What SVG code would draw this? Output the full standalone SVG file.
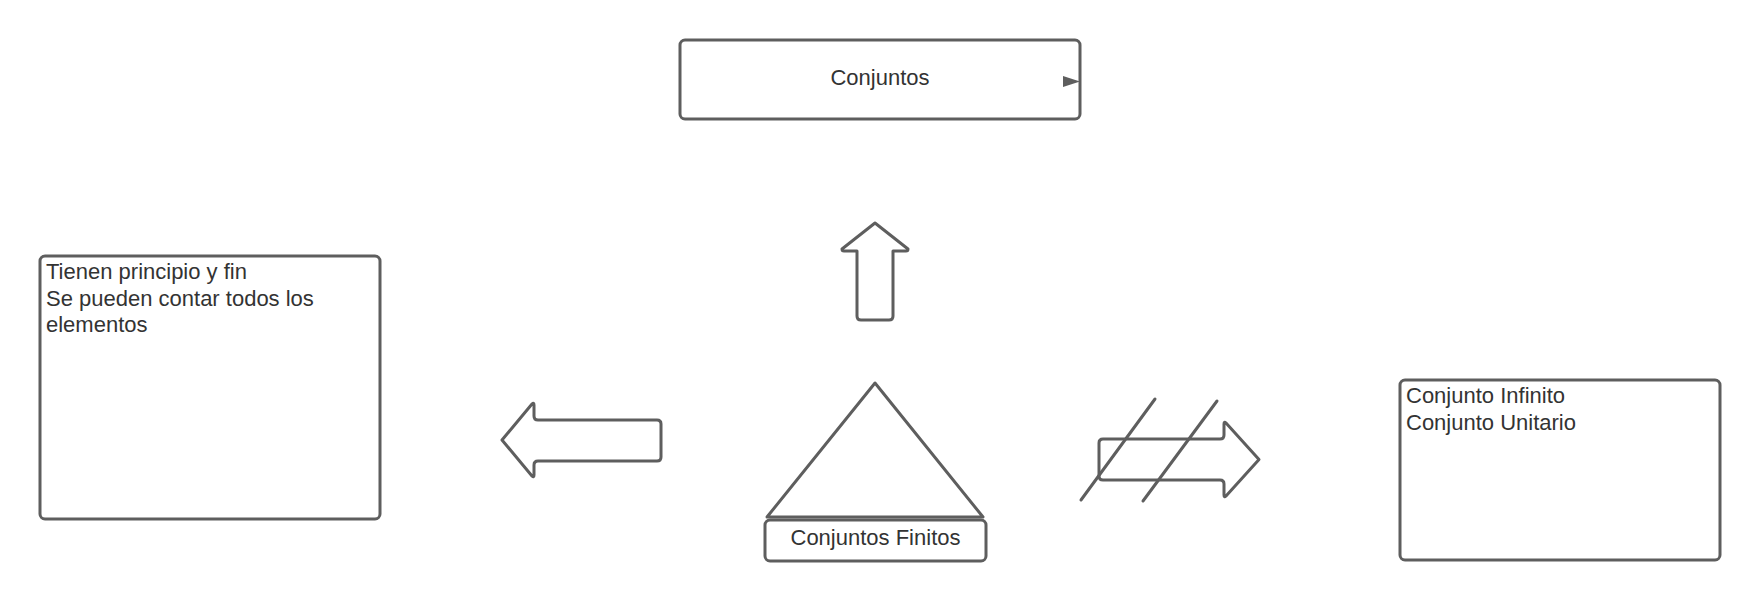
<svg xmlns="http://www.w3.org/2000/svg" width="1760" height="600" viewBox="0 0 1760 600">
<style>
.shape{fill:#ffffff;stroke:#5e5e5e;stroke-width:3;stroke-linejoin:round;stroke-linecap:round}
.line{fill:none;stroke:#5e5e5e;stroke-width:3;stroke-linecap:round}
.head{fill:#5e5e5e;stroke:none}
text{font-family:"Liberation Sans",Arial,sans-serif;font-size:22px;fill:#333333}
.c{text-anchor:middle}
</style>
<rect width="1760" height="600" fill="#ffffff"/>
<g id="node-conjuntos">
<rect class="shape" x="680" y="40" width="400" height="79" rx="5"/>
<text class="c" x="880" y="85">Conjuntos</text>
</g>
<g id="node-left-box">
<rect class="shape" x="40" y="256" width="340" height="263" rx="5"/>
<text x="46" y="279">Tienen principio y fin</text>
<text x="46" y="305.5">Se pueden contar todos los</text>
<text x="46" y="332">elementos</text>
</g>
<g id="node-right-box">
<rect class="shape" x="1400" y="380" width="320" height="180" rx="5"/>
<text x="1406" y="403">Conjunto Infinito</text>
<text x="1406" y="429.5">Conjunto Unitario</text>
</g>
<g id="node-triangle">
<path class="shape" d="M875,383 L983,517 L767,517 Z"/>
</g>
<g id="node-finitos">
<rect class="shape" x="765" y="520" width="221" height="41" rx="5"/>
<text class="c" x="875.5" y="545">Conjuntos Finitos</text>
</g>
<g id="node-arrow-up">
<path class="shape" d="M875,223 L908,249 Q908,251 906,251 L893,251 L893,316 Q893,320 889,320 L861,320 Q857,320 857,316 L857,251 L844,251 Q842,251 842,249 Z"/>
</g>
<g id="node-arrow-left">
<path class="shape" d="M502,440 L532,404 Q534,402 534,405 L534,416 Q534,420 538,420 L657,420 Q661,420 661,424 L661,457 Q661,461 657,461 L538,461 Q534,461 534,465 L534,475 Q534,478 532,476 Z"/>
</g>
<g id="node-arrow-right-crossed">
<path class="shape" d="M1103,439 L1220,439 Q1224,439 1224,435 L1224,424 Q1224,421 1226,423 L1259,459.5 L1226,496 Q1224,498 1224,495 L1224,484 Q1224,480 1220,480 L1103,480 Q1099,480 1099,476 L1099,443 Q1099,439 1103,439 Z"/>
<path class="line" d="M1081,500 L1155,399"/>
<path class="line" d="M1143,501 L1217,401"/>
</g>
<g id="connectors">
<path class="head" d="M1063,76 L1080,81.5 L1063,87 Z"/>
</g>
</svg>
